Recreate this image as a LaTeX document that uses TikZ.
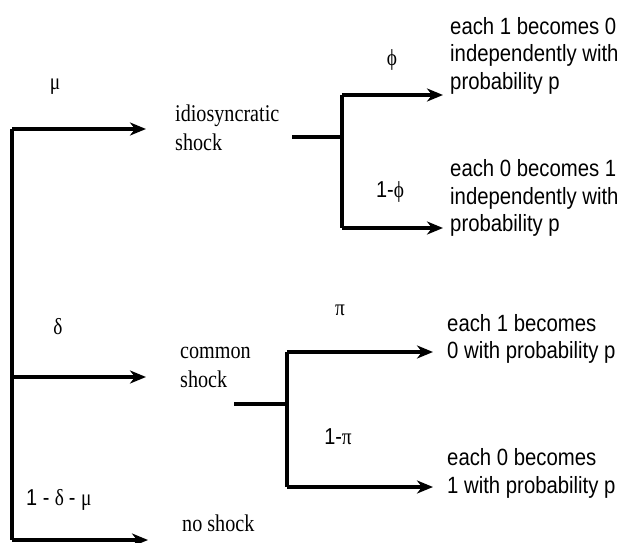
\documentclass[tikz,border=0pt]{standalone}
\usepackage{fontspec}
\setmainfont{Liberation Serif}[FakeStretch=0.84]
\newfontfamily\arialf{Liberation Sans}[FakeStretch=0.865]
\usetikzlibrary{arrows.meta}
\tikzset{
  ln/.style={line width=3.6pt},
  arr/.style={ln, -{Stealth[length=16pt,width=13pt,inset=5pt]}},
  serift/.style={inner sep=0pt, anchor=west, align=left, font=\fontsize{24}{29}\selectfont},
  sanst/.style={inner sep=0pt, anchor=west, align=left, font=\arialf\fontsize{23.5}{27.5}\selectfont},
  lab/.style={inner sep=0pt, font=\fontsize{23}{26}\selectfont},
}
\begin{document}
\begin{tikzpicture}[x=1pt,y=-1pt]
\useasboundingbox (0,0) rectangle (619,543);
% root coordinates
\coordinate (r1) at (12,129);
\coordinate (r2) at (12,377);
\coordinate (r3) at (12,540);
\coordinate (a1) at (146,129);
\coordinate (a2) at (146,377);
\coordinate (a3) at (148,540);
% first level outcomes
\node[serift] (idio) at (175,127.5) {idiosyncratic\\shock};
\node[serift] (common) at (180,367.5) {common\\shock};
\node[serift] (noshock) at (182,523) {no shock};
% root branches
\draw[ln] (r1) -- (r3);
\draw[arr] (r1) -- (a1);
\draw[arr] (r2) -- (a2);
\draw[arr] (r3) -- (a3);
\node[lab] (mu) at (55,87) {μ};
\node[lab] (delta) at (58,327) {δ};
\node[lab,anchor=west] (ndm) at (26,500) {\arialf 1 - \rmfamily δ \arialf - \rmfamily μ};
% idiosyncratic subtree
\coordinate (s1) at (292,137);
\coordinate (j1) at (342,137);
\coordinate (j1t) at (342,95);
\coordinate (j1b) at (342,228);
\coordinate (t1) at (443,95);
\coordinate (t2) at (443,228);
\draw[ln] (s1) -- (j1);
\draw[ln] (j1t) -- (j1b);
\draw[arr] (j1t) -- (t1);
\draw[arr] (j1b) -- (t2);
\node[lab] (phi) at (392,60) {ϕ};
\node[lab] (omphi) at (390,192) {\arialf 1-\rmfamily ϕ};
\node[sanst] (R1) at (450,55.5) {each 1 becomes 0\\independently with\\probability p};
\node[sanst] (R2) at (450,198) {each 0 becomes 1\\independently with\\probability p};
% common subtree
\coordinate (s2) at (234,404);
\coordinate (j2) at (287,404);
\coordinate (j2t) at (287,352);
\coordinate (j2b) at (287,487);
\coordinate (t3) at (433,352);
\coordinate (t4) at (433,487);
\draw[ln] (s2) -- (j2);
\draw[ln] (j2t) -- (j2b);
\draw[arr] (j2t) -- (t3);
\draw[arr] (j2b) -- (t4);
\node[lab] (pi) at (340,310) {π};
\node[lab] (ompi) at (338,437) {\arialf 1-\rmfamily π};
\node[sanst] (R3) at (447,339) {each 1 becomes\\0 with probability p};
\node[sanst] (R4) at (447,473.5) {each 0 becomes\\1 with probability p};
\end{tikzpicture}
\end{document}
